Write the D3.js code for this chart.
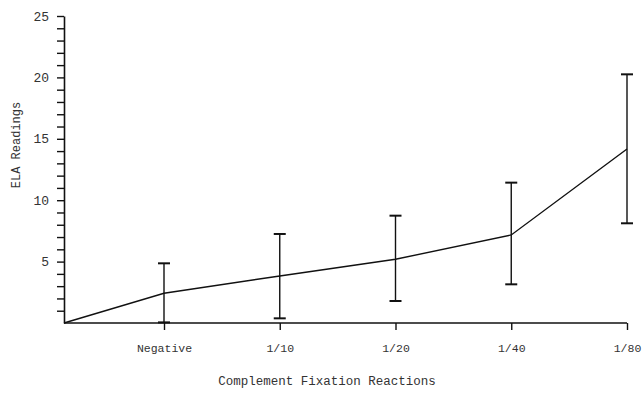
<!DOCTYPE html>
<html>
<head>
<meta charset="utf-8">
<script src="https://cdn.jsdelivr.net/npm/d3@7"></script>
<style>
	body { margin: 0; background: #fff; }
	text { font-family: 'Liberation Mono', 'DejaVu Sans Mono', monospace; fill: #222; }
</style>
</head>
<body>
<div id="draw"></div>
<script>
// data
const categories = ['Negative', '1/10', '1/20', '1/40', '1/80'];
const means = [2.42, 3.83, 5.19, 7.17, 14.17];
const lowers = [0.05, 0.38, 1.79, 3.15, 8.12];
const uppers = [4.86, 7.25, 8.74, 11.43, 20.25];
const startValue = 0; // line starts at the origin
const yTicks = [5, 10, 15, 20, 25];

var width = 644,
	height = 393,
	x0 = 64,
	x1 = 627,
	yTop = 16,
	yBottom = 323;

var svg = d3
	.select('#draw')
	.append('svg')
	.attr('width', width)
	.attr('height', height);

var x = d3.scalePoint().domain(categories).range([164, x1]);
var y = d3.scaleLinear().domain([0, 25]).range([yBottom, yTop]);

// y axis: minor ticks every unit, labels every 5
var yAxis = svg
	.append('g')
	.attr('transform', 'translate(' + x0 + ',0)')
	.call(
		d3
			.axisLeft(y)
			.tickValues(d3.range(1, 26))
			.tickSize(7)
			.tickSizeOuter(0)
			.tickPadding(8)
			.tickFormat(function (d) {
				return yTicks.includes(d) ? d : '';
			})
	);
yAxis.select('.domain').attr('stroke', '#111').attr('stroke-width', 1.6);
yAxis.selectAll('line').attr('stroke', '#111').attr('stroke-width', 1.4);
yAxis.selectAll('text').style('font-size', '13px').style('fill', '#333');

// x axis
svg
	.append('line')
	.attr('x1', x0)
	.attr('x2', x1)
	.attr('y1', yBottom)
	.attr('y2', yBottom)
	.attr('stroke', '#111')
	.attr('stroke-width', 1.6);

var xAxis = svg
	.append('g')
	.attr('transform', 'translate(0,' + yBottom + ')')
	.call(d3.axisBottom(x).tickSize(7).tickSizeOuter(0).tickPadding(14));
xAxis.select('.domain').remove();
xAxis.selectAll('line').attr('stroke', '#111').attr('stroke-width', 1.4);
xAxis.selectAll('text').style('font-size', '11.5px').style('fill', '#333');

// axis titles
svg
	.append('text')
	.attr('x', 327)
	.attr('y', 385)
	.attr('text-anchor', 'middle')
	.style('font-size', '12.5px')
	.style('fill', '#333')
	.text('Complement Fixation Reactions');

svg
	.append('text')
	.attr('transform', 'translate(20,145) rotate(-90)')
	.attr('text-anchor', 'middle')
	.style('font-size', '12px')
	.style('fill', '#333')
	.text('ELA Readings');

// mean line, starting at the origin
var points = [[x0, y(startValue)]].concat(
	categories.map(function (c, i) {
		return [x(c), y(means[i])];
	})
);
svg
	.append('path')
	.attr('d', d3.line()(points))
	.attr('fill', 'none')
	.attr('stroke', '#111')
	.attr('stroke-width', 1.4);

// error bars
var bars = svg
	.selectAll('.err')
	.data(categories)
	.enter()
	.append('g')
	.attr('class', 'err');

bars
	.append('line')
	.attr('x1', function (d) { return x(d); })
	.attr('x2', function (d) { return x(d); })
	.attr('y1', function (d, i) { return y(lowers[i]); })
	.attr('y2', function (d, i) { return y(uppers[i]); })
	.attr('stroke', '#111')
	.attr('stroke-width', 1.4);

[uppers, lowers].forEach(function (arr) {
	bars
		.append('line')
		.attr('x1', function (d) { return x(d) - 6; })
		.attr('x2', function (d) { return x(d) + 6; })
		.attr('y1', function (d, i) { return y(arr[i]); })
		.attr('y2', function (d, i) { return y(arr[i]); })
		.attr('stroke', '#111')
		.attr('stroke-width', 2);
});
</script>
</body>
</html>
